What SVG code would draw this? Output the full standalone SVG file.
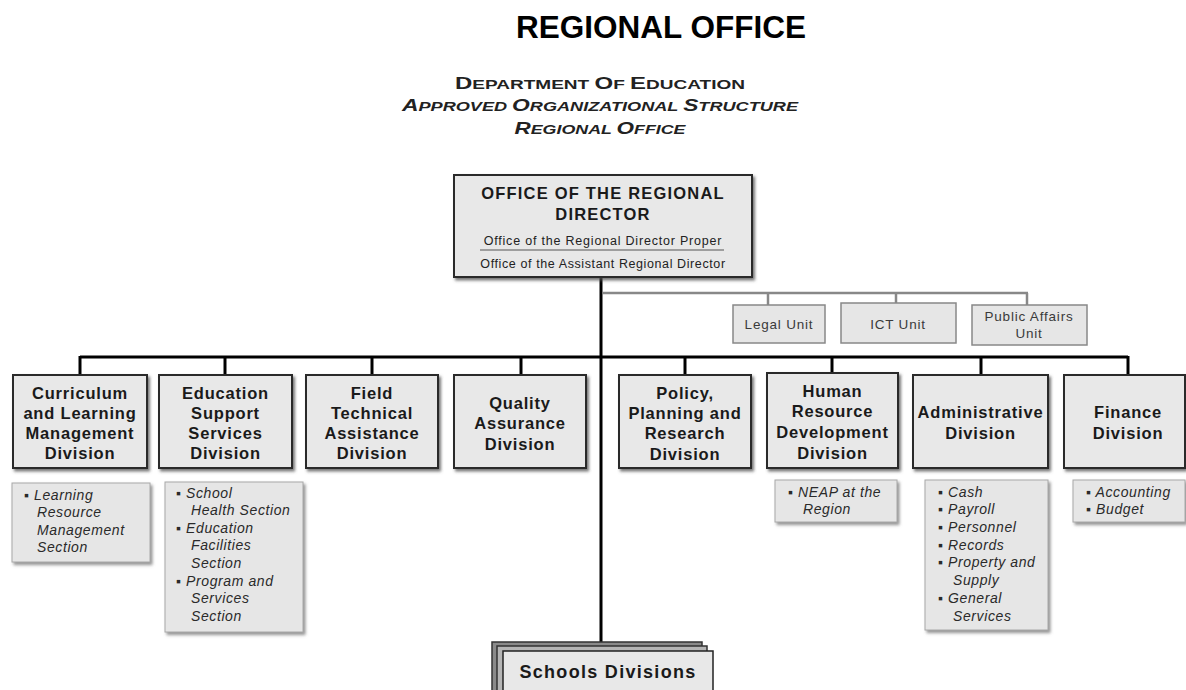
<svg xmlns="http://www.w3.org/2000/svg" width="1186" height="690" viewBox="0 0 1186 690">
<defs>
<filter id="sh" x="-10%" y="-10%" width="130%" height="130%">
<feDropShadow dx="2" dy="2.5" stdDeviation="1.5" flood-color="#555" flood-opacity="0.8"/>
</filter>
<filter id="sh2" x="-10%" y="-10%" width="130%" height="130%">
<feDropShadow dx="2" dy="2.5" stdDeviation="1.8" flood-color="#777" flood-opacity="0.8"/>
</filter>
</defs>
<style>
text{font-family:"Liberation Sans",Arial,sans-serif;}
.box{fill:#e8e8e8;stroke:#2a2a2a;stroke-width:2;filter:url(#sh);}
.sub{fill:#e6e6e6;stroke:#a8a8a8;stroke-width:1;filter:url(#sh2);}
.unit{fill:#e6e6e6;stroke:#888;stroke-width:1.5;}
.dv{font-size:16.5px;font-weight:bold;fill:#1a1a1a;text-anchor:middle;letter-spacing:0.8px;}
.st{font-size:14px;font-style:italic;fill:#2a2a2a;letter-spacing:0.6px;}
.ut{font-size:13.5px;fill:#3a3a3a;text-anchor:middle;letter-spacing:0.8px;}
.bk{stroke:#000;stroke-width:3;fill:none;}
.gy{stroke:#888;stroke-width:2.5;fill:none;}
.sc{font-weight:bold;fill:#222;text-anchor:middle;}
</style>

<g id="title">
<text x="661" y="38" font-size="31.5" font-weight="bold" text-anchor="middle" fill="#000">REGIONAL OFFICE</text>
<text class="sc" x="600" y="89" textLength="290" lengthAdjust="spacingAndGlyphs"><tspan font-size="17">D</tspan><tspan font-size="13.5">EPARTMENT </tspan><tspan font-size="17">O</tspan><tspan font-size="13.5">F </tspan><tspan font-size="17">E</tspan><tspan font-size="13.5">DUCATION</tspan></text>
<text class="sc" x="600" y="111" font-style="italic" textLength="396" lengthAdjust="spacingAndGlyphs"><tspan font-size="17">A</tspan><tspan font-size="13.5">PPROVED </tspan><tspan font-size="17">O</tspan><tspan font-size="13.5">RGANIZATIONAL </tspan><tspan font-size="17">S</tspan><tspan font-size="13.5">TRUCTURE</tspan></text>
<text class="sc" x="600" y="134" font-style="italic" textLength="171" lengthAdjust="spacingAndGlyphs"><tspan font-size="17">R</tspan><tspan font-size="13.5">EGIONAL </tspan><tspan font-size="17">O</tspan><tspan font-size="13.5">FFICE</tspan></text>
</g>

<g id="connectors">
<line class="bk" x1="601" y1="277" x2="601" y2="643" stroke-width="4"/>
<line class="bk" x1="80" y1="357" x2="1128" y2="357"/>
<line class="bk" x1="80" y1="356" x2="80" y2="375"/>
<line class="bk" x1="225" y1="356" x2="225" y2="375"/>
<line class="bk" x1="372" y1="356" x2="372" y2="375"/>
<line class="bk" x1="521" y1="356" x2="521" y2="375"/>
<line class="bk" x1="685" y1="356" x2="685" y2="375"/>
<line class="bk" x1="832" y1="356" x2="832" y2="373"/>
<line class="bk" x1="981" y1="356" x2="981" y2="375"/>
<line class="bk" x1="1128" y1="356" x2="1128" y2="375"/>
<line class="gy" x1="603" y1="293" x2="1028" y2="293"/>
<line class="gy" x1="768" y1="293" x2="768" y2="305"/>
<line class="gy" x1="896" y1="293" x2="896" y2="303"/>
<line class="gy" x1="1027" y1="293" x2="1027" y2="305"/>
</g>

<g id="regional-director">
<rect class="box" x="454" y="175" width="298" height="102"/>
<text x="603" y="199" font-size="16.5" font-weight="bold" text-anchor="middle" fill="#1a1a1a" letter-spacing="1.2">OFFICE OF THE REGIONAL</text>
<text x="603" y="220" font-size="16.5" font-weight="bold" text-anchor="middle" fill="#1a1a1a" letter-spacing="1.2">DIRECTOR</text>
<text x="603" y="245" font-size="12.5" text-anchor="middle" fill="#222" letter-spacing="0.8">Office of the Regional Director Proper</text>
<line x1="480" y1="250" x2="724" y2="250" stroke="#555" stroke-width="1"/>
<text x="603" y="268" font-size="12.5" text-anchor="middle" fill="#222" letter-spacing="0.6">Office of the Assistant Regional Director</text>
</g>

<g id="legal-unit">
<rect class="unit" x="733" y="305" width="92" height="38"/>
<text class="ut" x="779" y="329">Legal Unit</text>
</g>
<g id="ict-unit">
<rect class="unit" x="841" y="303" width="115" height="40"/>
<text class="ut" x="898" y="329">ICT  Unit</text>
</g>
<g id="public-affairs-unit">
<rect class="unit" x="972" y="305" width="115" height="40"/>
<text class="ut" x="1029" y="321">Public  Affairs</text>
<text class="ut" x="1029" y="338">Unit</text>
</g>

<g id="curriculum">
<rect class="box" x="13" y="375" width="134" height="93"/>
<text class="dv" x="80" y="399">Curriculum</text>
<text class="dv" x="80" y="419">and Learning</text>
<text class="dv" x="80" y="439">Management</text>
<text class="dv" x="80" y="459">Division</text>
<rect class="sub" x="12" y="483" width="138" height="79"/>
<text class="st" x="24" y="500">▪ Learning</text>
<text class="st" x="37" y="517">Resource</text>
<text class="st" x="37" y="535">Management</text>
<text class="st" x="37" y="552">Section</text>
</g>

<g id="education-support">
<rect class="box" x="159" y="375" width="133" height="93"/>
<text class="dv" x="225.5" y="399">Education</text>
<text class="dv" x="225.5" y="419">Support</text>
<text class="dv" x="225.5" y="439">Services</text>
<text class="dv" x="225.5" y="459">Division</text>
<rect class="sub" x="165" y="482" width="138" height="150"/>
<text class="st" x="176" y="498">▪ School</text>
<text class="st" x="191" y="515">Health Section</text>
<text class="st" x="176" y="533">▪ Education</text>
<text class="st" x="191" y="550">Facilities</text>
<text class="st" x="191" y="568">Section</text>
<text class="st" x="176" y="586">▪ Program and</text>
<text class="st" x="191" y="603">Services</text>
<text class="st" x="191" y="621">Section</text>
</g>

<g id="field-technical">
<rect class="box" x="306" y="375" width="132" height="93"/>
<text class="dv" x="372" y="399">Field</text>
<text class="dv" x="372" y="419">Technical</text>
<text class="dv" x="372" y="439">Assistance</text>
<text class="dv" x="372" y="459">Division</text>
</g>

<g id="quality-assurance">
<rect class="box" x="454" y="375" width="132" height="93"/>
<text class="dv" x="520" y="409">Quality</text>
<text class="dv" x="520" y="429">Assurance</text>
<text class="dv" x="520" y="450">Division</text>
</g>

<g id="policy-planning">
<rect class="box" x="619" y="375" width="132" height="93"/>
<text class="dv" x="685" y="399">Policy,</text>
<text class="dv" x="685" y="419">Planning and</text>
<text class="dv" x="685" y="439">Research</text>
<text class="dv" x="685" y="460">Division</text>
</g>

<g id="human-resource">
<rect class="box" x="767" y="373" width="131" height="95"/>
<text class="dv" x="832.5" y="397">Human</text>
<text class="dv" x="832.5" y="417">Resource</text>
<text class="dv" x="832.5" y="438">Development</text>
<text class="dv" x="832.5" y="459">Division</text>
<rect class="sub" x="775" y="480" width="122" height="42"/>
<text class="st" x="788" y="497">▪ NEAP at the</text>
<text class="st" x="803" y="514">Region</text>
</g>

<g id="administrative">
<rect class="box" x="913" y="375" width="135" height="93"/>
<text class="dv" x="980.5" y="418">Administrative</text>
<text class="dv" x="980.5" y="439">Division</text>
<rect class="sub" x="925" y="480" width="123" height="150"/>
<text class="st" x="938" y="497">▪ Cash</text>
<text class="st" x="938" y="514">▪ Payroll</text>
<text class="st" x="938" y="532">▪ Personnel</text>
<text class="st" x="938" y="550">▪ Records</text>
<text class="st" x="938" y="567">▪ Property and</text>
<text class="st" x="953" y="585">Supply</text>
<text class="st" x="938" y="603">▪ General</text>
<text class="st" x="953" y="621">Services</text>
</g>

<g id="finance">
<rect class="box" x="1064" y="375" width="121" height="93"/>
<text class="dv" x="1128" y="418">Finance</text>
<text class="dv" x="1128" y="439">Division</text>
<rect class="sub" x="1073" y="480" width="112" height="42"/>
<text class="st" x="1086" y="497">▪ Accounting</text>
<text class="st" x="1086" y="514">▪ Budget</text>
</g>

<g id="schools-divisions">
<rect x="492" y="642" width="210" height="60" fill="#8a8a8a" stroke="#333" stroke-width="1.5"/>
<rect x="497" y="646" width="210" height="60" fill="#b5b5b5" stroke="#333" stroke-width="1.5"/>
<rect x="503" y="651" width="210" height="50" fill="#e8e8e8" stroke="#222" stroke-width="1.5"/>
<text x="608" y="678" font-size="18" font-weight="bold" text-anchor="middle" fill="#1a1a1a" letter-spacing="1.3">Schools Divisions</text>
</g>
</svg>
